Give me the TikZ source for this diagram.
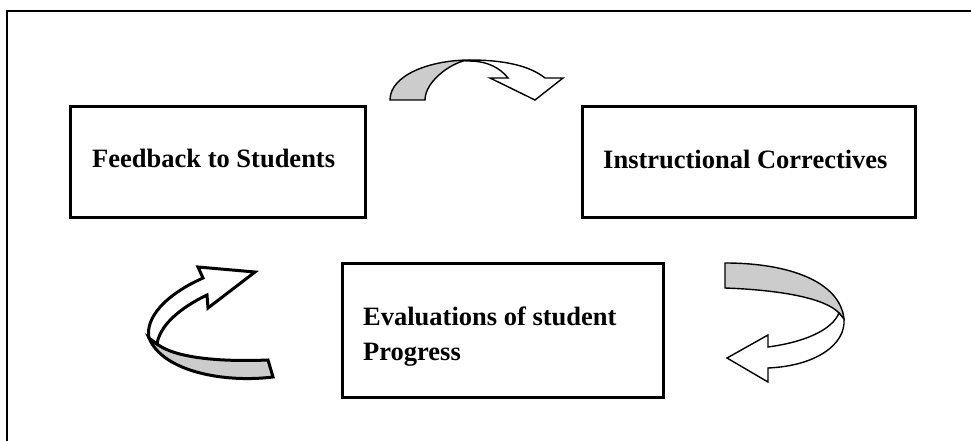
\documentclass[tikz,border=0pt]{standalone}
\usepackage{fontspec}
\setmainfont{Liberation Serif}
\definecolor{bandgray}{gray}{0.8}
\begin{document}
\begin{tikzpicture}[x=1pt,y=-1pt,
  stagebox/.style={draw, line width=3pt, inner sep=0pt},
  stagetext/.style={font=\bfseries\fontsize{26.5}{30}\selectfont, inner sep=0pt, anchor=base west},
  thinband/.style={draw, line width=1.4pt, fill=white},
  thinunder/.style={draw, line width=1.4pt, fill=bandgray},
  thickband/.style={draw, line width=3pt, fill=white},
  thickunder/.style={draw, line width=3pt, fill=bandgray}]

% canvas and open frame
\useasboundingbox (0,0) rectangle (971,441);
\draw[line width=2.2pt] (7,441) -- (7,11) -- (971,11);

% the three stages
\node[stagebox, minimum width=295pt, minimum height=110pt] (feedback) at (217.5,162) {};
\node[stagebox, minimum width=333pt, minimum height=110pt] (correctives) at (748.5,162) {};
\node[stagebox, minimum width=321pt, minimum height=134pt] (evaluation) at (502.5,330) {};

\node[stagetext] (feedbacktext) at (92,167) {Feedback to Students};
\node[stagetext] (correctivestext) at (603,168) {Instructional Correctives};
\node[stagetext] (evaltext1) at (363,325) {Evaluations of student};
\node[stagetext] (evaltext2) at (363,360) {Progress};

% curved arrow: feedback -> correctives
\path[thinunder] (390,100) .. controls (390,75) and (430,60) .. (470,60)
  .. controls (455,60) and (425,80) .. (425,100) -- cycle;
\path[thinband] (470,60) .. controls (505,60) and (530,66) .. (545,78)
  -- (563,78) -- (535,100) -- (490,78) -- (508,78)
  .. controls (500,68) and (488,61) .. (468,61) -- cycle;

% curved arrow: correctives -> evaluation
\path[thinunder] (725,263) .. controls (790,263) and (840,282) .. (844,319)
  -- (839,313) .. controls (825,298) and (780,290) .. (725,288) -- cycle;
\path[thinband] (844,319) .. controls (846,345) and (815,366) .. (768,368)
  -- (768,382) -- (727,358) -- (768,335) -- (768,347)
  .. controls (805,342) and (832,330) .. (839,313) -- cycle;

% curved arrow: evaluation -> feedback
\path[thickunder] (157,344) .. controls (175,358) and (220,362) .. (268,360)
  -- (273,377) .. controls (225,383) and (163,372) .. (149,338) -- cycle;
\path[thickband] (149,338) .. controls (145,318) and (165,295) .. (203,278)
  -- (198,267) -- (255,272) -- (208,308) -- (207,295)
  .. controls (180,308) and (160,325) .. (157,344) -- cycle;
\end{tikzpicture}
\end{document}
